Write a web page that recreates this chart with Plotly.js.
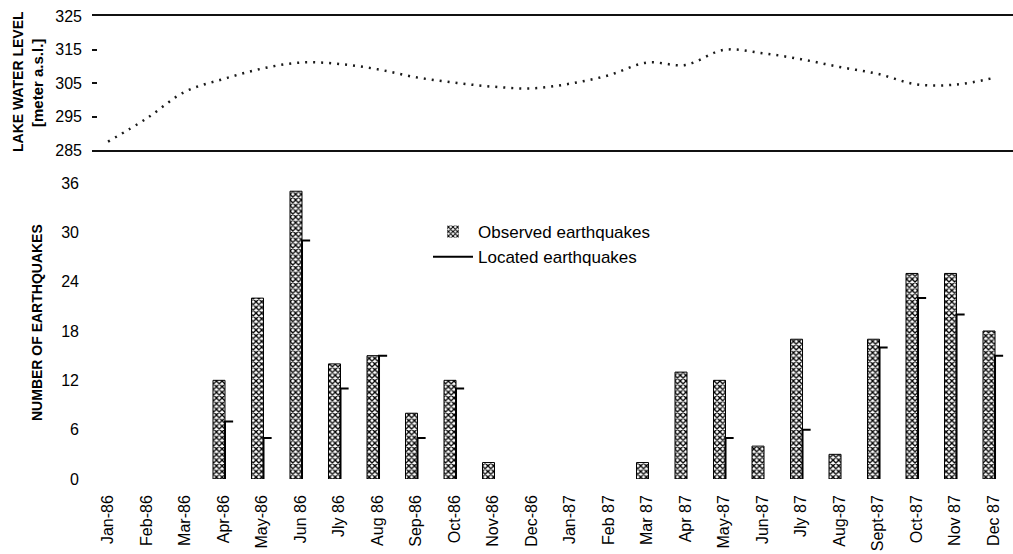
<!DOCTYPE html>
<html>
<head>
<meta charset="utf-8">
<script src="https://cdn.plot.ly/plotly-3.0.1.min.js"></script>
<style>html,body{margin:0;padding:0;background:#fff;}#chart{width:1013px;height:554px;}</style>
</head>
<body>
<div id="chart"></div>
<script>
// ---- data ----
const months = ['Jan-86','Feb-86','Mar-86','Apr-86','May-86','Jun 86','Jly 86','Aug 86','Sep-86','Oct-86','Nov-86','Dec-86',
                'Jan-87','Feb 87','Mar 87','Apr 87','May-87','Jun-87','Jly 87','Aug-87','Sept-87','Oct-87','Nov 87','Dec 87'];
const observedQuakes = [0,0,0,12,22,35,14,15,8,12,2,0, 0,0,2,13,12,4,17,3,17,25,25,18];
const locatedQuakes  = [null,null,null,7,5,29,11,15,5,11,null,null, null,null,null,null,5,null,6,null,16,22,20,15];
const lakeLevel = [287.5,294.4,302.4,306.2,309.3,311.1,310.7,309.1,306.7,305.1,303.9,303.4,
                   304.8,307.3,311.1,310.4,314.9,313.9,312.1,309.8,307.7,304.6,304.5,306.5];
const levelTicks = [285,295,305,315,325];
const levelTickText = ['285','295','305','315','325'];
const quakeTicks = [0,6,12,18,24,30,36];

// ---- geometry helpers (figure pixels -> paper fractions) ----
const W = 1013, H = 554;
const px = v => v / W;
const py = v => 1 - v / H;
const idx = months.map((m, i) => i);

// located earthquakes drawn as a vertical stroke with a small top tick
const locX = [], locY = [];
locatedQuakes.forEach((v, i) => {
  if (v === null) return;
  locX.push(i + 0.039, i + 0.039, i + 0.25, null);
  locY.push(0, v, v, null);
});

const FONT = 'Liberation Sans, Arial, sans-serif';

const traces = [
  {
    type: 'bar', name: 'Observed earthquakes',
    x: idx, y: observedQuakes, xaxis: 'x', yaxis: 'y',
    offset: -0.273, width: 0.312,
    marker: {
      color: '#ffffff',
      pattern: {shape: 'x', size: 4, solidity: 0.55, fgcolor: '#000000', bgcolor: '#ffffff'},
      line: {color: '#000000', width: observedQuakes.map(v => v > 0 ? 1 : 0)}
    },
    hoverinfo: 'skip'
  },
  {
    type: 'scatter', mode: 'lines', name: 'Located earthquakes',
    x: locX, y: locY, xaxis: 'x', yaxis: 'y',
    line: {color: '#000000', width: 2},
    connectgaps: false, hoverinfo: 'skip'
  },
  {
    type: 'scatter', mode: 'lines', name: 'Lake water level',
    x: idx, y: lakeLevel, xaxis: 'x2', yaxis: 'y2',
    line: {color: '#1a1a1a', width: 2.5, dash: '2px,6px', shape: 'spline', smoothing: 1},
    showlegend: false, hoverinfo: 'skip'
  }
];

const xr = [-0.4156, 23.506];
const layout = {
  width: W, height: H,
  margin: {l: 0, r: 0, t: 0, b: 0},
  paper_bgcolor: '#ffffff', plot_bgcolor: 'rgba(0,0,0,0)',
  font: {family: FONT, color: '#000', size: 16},
  showlegend: true,
  xaxis: {
    domain: [px(92), 1], range: xr, anchor: 'y',
    tickmode: 'array', tickvals: idx, ticktext: months, tickangle: -90,
    tickfont: {size: 16, family: FONT, color: '#000'},
    ticks: '', ticklabelstandoff: 12,
    showline: false, showgrid: false, zeroline: false, automargin: false
  },
  yaxis: {
    domain: [py(479), py(183)], range: [0, 36], anchor: 'x',
    tickmode: 'array', tickvals: quakeTicks,
    tickfont: {size: 16, family: FONT, color: '#000'},
    ticks: '', ticklabelstandoff: 12,
    showline: false, showgrid: false, zeroline: false, automargin: false
  },
  xaxis2: {
    domain: [px(92), 1], range: xr, anchor: 'y2',
    showticklabels: false, ticks: '',
    showline: true, mirror: true, linewidth: 2, linecolor: '#111',
    showgrid: false, zeroline: false, automargin: false
  },
  yaxis2: {
    domain: [py(150), py(16)], range: [285, 325], anchor: 'x2',
    tickmode: 'array', tickvals: levelTicks, ticktext: levelTickText,
    tickfont: {size: 16, family: FONT, color: '#000'},
    ticks: 'inside', ticklen: 5, tickwidth: 2, tickcolor: '#111',
    ticklabelstandoff: 9,
    showline: false, showgrid: false, zeroline: false, automargin: false
  },
  legend: {
    x: px(428), y: py(214), xanchor: 'left', yanchor: 'top',
    bgcolor: 'rgba(0,0,0,0)', borderwidth: 0,
    font: {size: 17, family: FONT, color: '#000'},
    tracegroupgap: 0, itemwidth: 40
  },
  annotations: [
    {xref: 'paper', yref: 'paper', x: px(18), y: py(82), text: 'LAKE WATER LEVEL',
     textangle: -90, showarrow: false, xanchor: 'center', yanchor: 'middle',
     font: {size: 14, family: FONT, color: '#000', weight: 'bold'}},
    {xref: 'paper', yref: 'paper', x: px(37), y: py(83), text: '[meter a.s.l.]',
     textangle: -90, showarrow: false, xanchor: 'center', yanchor: 'middle',
     font: {size: 15, family: FONT, color: '#000', weight: 'bold'}},
    {xref: 'paper', yref: 'paper', x: px(37), y: py(323), text: 'NUMBER OF EARTHQUAKES',
     textangle: -90, showarrow: false, xanchor: 'center', yanchor: 'middle',
     font: {size: 14, family: FONT, color: '#000', weight: 'bold'}}
  ]
};

Plotly.newPlot('chart', traces, layout, {staticPlot: true, displayModeBar: false});
</script>
</body>
</html>
